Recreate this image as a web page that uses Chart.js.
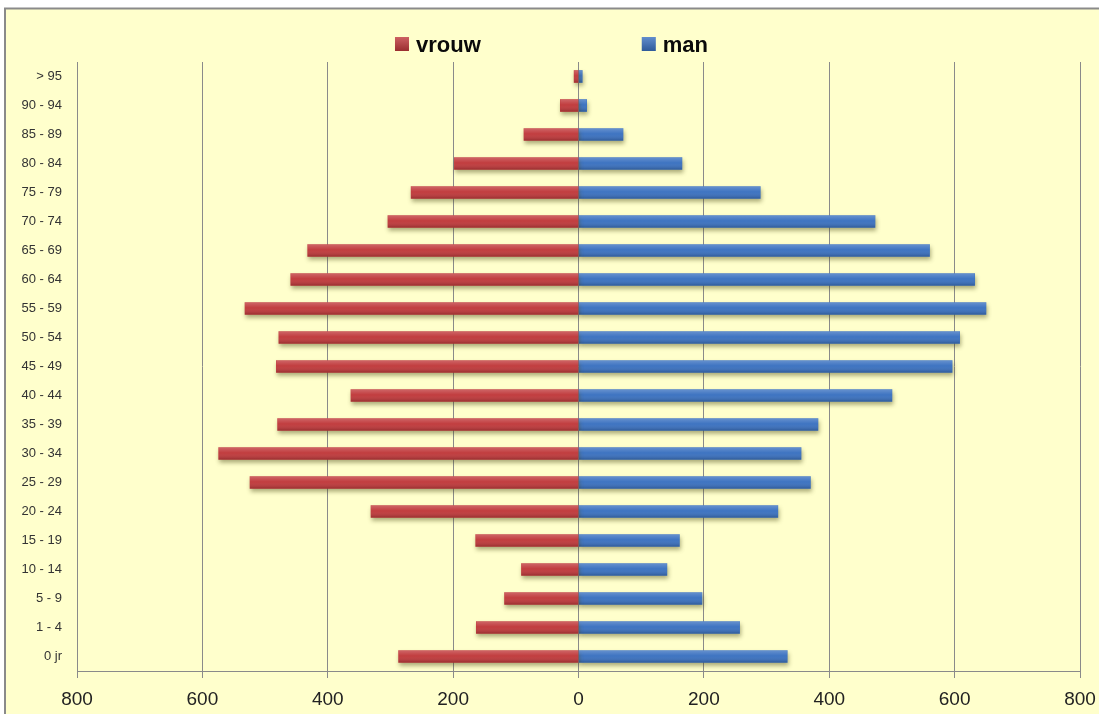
<!DOCTYPE html>
<html>
<head>
<meta charset="utf-8">
<title>Bevolkingspiramide</title>
<script src="https://cdn.jsdelivr.net/npm/chart.js@4.4.0/dist/chart.umd.min.js"></script>
<style>
    html, body { margin: 0; padding: 0; background: #ffffff; }
    #wrap { width: 1099px; height: 714px; position: relative; }
</style>
</head>
<body>
<div id="wrap"><canvas id="pyramide"></canvas></div>
<script>
// leeftijdsklassen, van jong (onder) naar oud (boven)
var leeftijden = ['0 jr', '1 - 4', '5 - 9', '10 - 14', '15 - 19', '20 - 24', '25 - 29', '30 - 34',
    '35 - 39', '40 - 44', '45 - 49', '50 - 54', '55 - 59', '60 - 64', '65 - 69', '70 - 74',
    '75 - 79', '80 - 84', '85 - 89', '90 - 94', '> 95'];

// aantallen per klasse
var vrouw = [287, 163, 118, 91, 164, 331, 524, 574, 480, 363, 482, 478, 532, 459, 432, 304, 267, 198, 87, 29, 7];
var man = [333, 257, 197, 141, 161, 318, 370, 355, 382, 500, 596, 608, 650, 632, 560, 473, 290, 165, 71, 13, 6];

// as: -800 .. 800, labels zonder minteken
var asMin = -800;
var asMax = 800;
var asStap = 200;

var grijs = '#8a8a8a';
var geel = '#ffffcc';
var lettertype = '"Liberation Sans", Arial, sans-serif';

// achtergrond en kader
var achtergrond = {
    id: 'achtergrond',
    beforeDraw: function (chart) {
        var ctx = chart.ctx;
        ctx.save();
        ctx.fillStyle = '#ffffff';
        ctx.fillRect(0, 0, chart.width, chart.height);
        ctx.fillStyle = geel;
        ctx.fillRect(5, 8, chart.width, chart.height);
        ctx.strokeStyle = grijs;
        ctx.lineWidth = 2;
        ctx.strokeRect(5, 8.5, chart.width + 10, chart.height + 10);
        ctx.restore();
    }
};

// schaduw onder de balken + lichte verloop erover
var balkEffect = {
    id: 'balkEffect',
    beforeDatasetsDraw: function (chart) {
        var ctx = chart.ctx;
        ctx.save();
        ctx.shadowColor = 'rgba(70, 70, 20, 0.45)';
        ctx.shadowBlur = 4;
        ctx.shadowOffsetX = 1;
        ctx.shadowOffsetY = 3;
    },
    afterDatasetsDraw: function (chart) {
        var ctx = chart.ctx;
        ctx.restore();
        ctx.save();
        chart.data.datasets.forEach(function (ds, i) {
            chart.getDatasetMeta(i).data.forEach(function (el) {
                var p = el.getProps(['x', 'y', 'base', 'height'], true);
                var links = Math.min(p.x, p.base);
                var breed = Math.abs(p.x - p.base);
                var boven = p.y - p.height / 2;
                var g = ctx.createLinearGradient(0, boven, 0, boven + p.height);
                g.addColorStop(0, 'rgba(255,255,255,0.22)');
                g.addColorStop(0.45, 'rgba(255,255,255,0.02)');
                g.addColorStop(1, 'rgba(0,0,0,0.2)');
                ctx.fillStyle = g;
                ctx.fillRect(links, boven, breed, p.height);
            });
        });
        ctx.restore();
    }
};

// legenda bovenaan, ruim uit elkaar
var legende = {
    id: 'legende',
    afterDraw: function (chart) {
        var ctx = chart.ctx;
        ctx.save();
        ctx.font = 'bold 22px ' + lettertype;
        var items = chart.data.datasets.map(function (ds) {
            return { label: ds.label, kleur: ds.backgroundColor, w: 14 + 8 + ctx.measureText(ds.label).width };
        });
        var tussen = 160;
        var totaal = items.reduce(function (s, it) { return s + it.w; }, 0) + tussen * (items.length - 1);
        var x = 552 - totaal / 2;
        items.forEach(function (it) {
            ctx.fillStyle = it.kleur;
            ctx.fillRect(x, 37, 14, 14);
            var g = ctx.createLinearGradient(0, 37, 0, 51);
            g.addColorStop(0, 'rgba(255,255,255,0.2)');
            g.addColorStop(1, 'rgba(0,0,0,0.2)');
            ctx.fillStyle = g;
            ctx.fillRect(x, 37, 14, 14);
            ctx.fillStyle = '#0a0a0a';
            ctx.textBaseline = 'alphabetic';
            ctx.fillText(it.label, x + 21, 52);
            x += it.w + tussen;
        });
        ctx.restore();
    }
};

var ctx = document.getElementById('pyramide').getContext('2d');
var piramide = new Chart(ctx, {
    type: 'bar',
    data: {
        labels: leeftijden,
        datasets: [{
            label: 'vrouw',
            data: vrouw.map(function (v) { return -v; }),
            backgroundColor: '#c0393b',
            barThickness: 12
        }, {
            label: 'man',
            data: man,
            backgroundColor: '#3a71c0',
            barThickness: 12
        }]
    },
    options: {
        indexAxis: 'y',
        responsive: true,
        maintainAspectRatio: false,
        animation: false,
        devicePixelRatio: 1,
        layout: {
            padding: { top: 62, right: 19, left: 0, bottom: 0 }
        },
        scales: {
            x: {
                stacked: true,
                min: asMin,
                max: asMax,
                ticks: {
                    stepSize: asStap,
                    color: '#222222',
                    padding: 10,
                    font: { family: lettertype, size: 19 },
                    callback: function (v) { return Math.abs(v); }
                },
                grid: {
                    color: grijs,
                    tickColor: grijs,
                    tickLength: 7,
                    lineWidth: 1
                },
                border: { color: grijs },
                afterFit: function (s) {
                    s.height = 43;
                    s.paddingLeft = 0;
                    s.paddingRight = 0;
                }
            },
            y: {
                stacked: true,
                reverse: true,
                grid: { display: false, drawTicks: false },
                border: { display: true, color: grijs },
                ticks: {
                    color: '#333333',
                    padding: 15,
                    font: { family: lettertype, size: 13 }
                },
                afterFit: function (s) { s.width = 77; }
            }
        },
        plugins: {
            legend: { display: false },
            tooltip: {
                callbacks: {
                    label: function (c) { return c.dataset.label + ': ' + Math.abs(c.raw); }
                }
            }
        }
    },
    plugins: [achtergrond, balkEffect, legende]
});
</script>
</body>
</html>
